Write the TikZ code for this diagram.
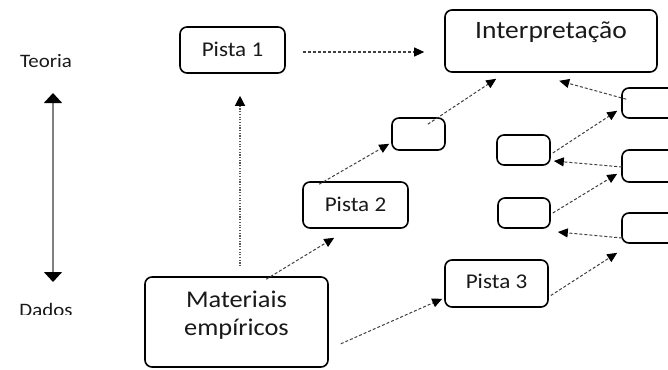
\documentclass[tikz,border=0pt]{standalone}
\usepackage{fontspec}
\setmainfont{Carlito}[FakeStretch=1.1]
\usetikzlibrary{arrows.meta,calc}
\begin{document}
\begin{tikzpicture}[x=1pt,y=-1pt,
  box/.style={draw=black,line width=1.6pt,rounded corners=7pt,fill=white,inner sep=0pt,text=black!90},
  lbl/.style={inner sep=0pt,text=black!90},
  dar/.style={draw=black!75,line width=1pt,dash pattern=on 3pt off 2pt,-{Triangle[width=9pt,length=10pt,color=black]}},
  dot/.style={draw=black!65,line width=1.2pt,dash pattern=on 1.2pt off 1.5pt,-{Triangle[width=10pt,length=10pt,color=black]}},
  big/.style={draw=black!50,line width=1.6pt,{Triangle[width=18pt,length=10pt,color=black]}-{Triangle[width=18pt,length=10pt,color=black]}}]
\useasboundingbox (0,0) rectangle (668,369);
\fill[white] (0,0) rectangle (668,369);

% side axis
\node[lbl,anchor=base,font=\fontsize{19}{22}\selectfont] (teoria) at (46,67) {Teoria};
\begin{scope}
\clip (0,290) rectangle (120,314);
\node[lbl,anchor=base,font=\fontsize{19}{22}\selectfont] (dados) at (46,316) {Dados};
\end{scope}
\coordinate (ax1) at (53,93);
\coordinate (ax2) at (53,282);
\draw[big] (ax1) -- (ax2);

% boxes
\node[box,minimum width=105pt,minimum height=46pt,font=\fontsize{21}{24}\selectfont] (p1) at (232.5,50) {\raisebox{2pt}{Pista 1}};
\node[box,minimum width=212pt,minimum height=62pt] (interp) at (551,41) {};
\node[lbl,anchor=base,font=\fontsize{25}{28}\selectfont] (interptxt) at (551,39) {Interpretação};
\node[box,minimum width=53pt,minimum height=32pt] (a) at (418.5,134) {};
\node[box,minimum width=56pt,minimum height=30pt] (r1) at (650,103) {};
\node[box,minimum width=53pt,minimum height=30pt] (b) at (523.5,150) {};
\node[box,minimum width=56pt,minimum height=32pt] (r2) at (650,166) {};
\node[box,minimum width=52pt,minimum height=30pt] (c) at (524,213) {};
\node[box,minimum width=56pt,minimum height=30pt] (r3) at (650,228) {};
\node[box,minimum width=105pt,minimum height=46pt,font=\fontsize{21}{24}\selectfont] (p2) at (355.5,205) {\raisebox{2pt}{Pista 2}};
\node[box,minimum width=103pt,minimum height=47pt,font=\fontsize{21}{24}\selectfont] (p3) at (496.5,283.5) {\raisebox{4pt}{Pista 3}};
\node[box,minimum width=183pt,minimum height=90pt] (mat) at (236.5,322) {};
\node[lbl,align=center,anchor=base,font=\fontsize{24}{28}\selectfont] (mattxt) at (236.5,335) {Materiais\\empíricos};

% connectors
\draw[dar] ([shift={(17,2)}]p1.east) -- ([shift={(-20,2)}]p1.east -| interp.west);
\draw[dot] ([shift={(7.5,-10)}]p1.south |- mat.north) -- ([shift={(7.5,22)}]p1.south);
\draw[dar] ([shift={(122,3)}]mat.north west) -- ([shift={(32,9)}]p2.south west);
\draw[dar] ([shift={(17,3)}]p2.north west) -- ([shift={(-2,-7)}]a.south west);
\draw[dar] ([shift={(-18,7)}]a.north east) -- ([shift={(52,6)}]interp.south west);
\draw[dar] ([shift={(5,12)}]r1.north west) -- ([shift={(115,8)}]interp.south west);
\draw[dar] ([shift={(2,3)}]b.east) -- ([shift={(-4,-8)}]r1.south west);
\draw[dar] ([shift={(1,1)}]r2.west) -- ([shift={(3,11)}]b.east);
\draw[dar] ([shift={(2,0)}]c.east) -- ([shift={(-4,-9)}]r2.south west);
\draw[dar] ([shift={(1,10)}]r3.west) -- ([shift={(7,19)}]c.east);
\draw[dar] ([shift={(2,12)}]p3.east) -- ([shift={(-4,9)}]r3.south west);
\draw[dar] ([shift={(12,-24)}]mat.south east) -- ([shift={(-2,-9)}]p3.south west);
\end{tikzpicture}
\end{document}
